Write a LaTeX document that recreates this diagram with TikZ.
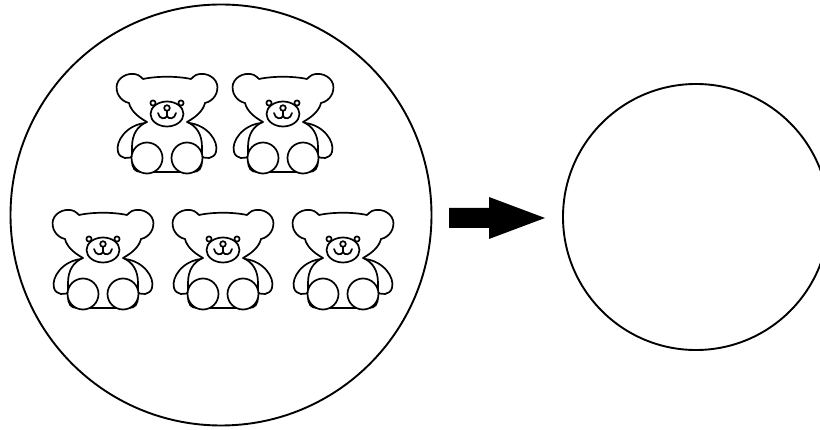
\documentclass[tikz,border=0pt]{standalone}
\begin{document}
\begin{tikzpicture}[x=1pt,y=-1pt,
  bigring/.style={line width=1.9pt},
  bearline/.style={line width=1.7pt, line join=round, fill=white},
  bear/.pic={
    % arms
    \draw[bearline] (-22,50) .. controls (-40,52) and (-52,68) .. (-49,79)
       .. controls (-47,86) and (-38,87) .. (-33,82) -- (-26,60) -- cycle;
    \draw[bearline] (22,50) .. controls (40,52) and (52,68) .. (49,79)
       .. controls (47,86) and (38,87) .. (33,82) -- (26,60) -- cycle;
    % head + body outline
    \draw[bearline] (-20,49)
       .. controls (-29,44) and (-36,38) .. (-38,30)
       .. controls (-47,28) and (-52,19) .. (-50,11)
       .. controls (-47,2) and (-36,-1) .. (-29,2)
       .. controls (-27,3) and (-25,5) .. (-24,6)
       .. controls (-10,3) and (10,3) .. (24,6)
       .. controls (25,5) and (27,3) .. (29,2)
       .. controls (36,-1) and (47,2) .. (50,11)
       .. controls (52,19) and (47,28) .. (38,30)
       .. controls (36,38) and (29,44) .. (20,49)
       .. controls (30,53) and (35,62) .. (35,74)
       -- (35,88) .. controls (35,95) and (32,99) .. (26,99)
       -- (-26,99) .. controls (-32,99) and (-35,95) .. (-35,88)
       -- (-35,74) .. controls (-35,62) and (-30,53) .. cycle;
    % feet
    \draw[bearline] (-20,85) circle[radius=15.5];
    \draw[bearline] (20,85) circle[radius=15.5];
    % face
    \draw[bearline] (-14,30) circle[radius=2.6];
    \draw[bearline] (14,30) circle[radius=2.6];
    \draw[bearline] (0,41) ellipse[x radius=16.5, y radius=12.5];
    \draw[bearline] (0,35) circle[radius=2.8];
    \draw[bearline, fill=none, line cap=round] (0,37.8) -- (0,43);
    \draw[bearline, fill=none, line cap=round] (-9,40) .. controls (-8,46.5) and (-1,46.5) .. (0,43)
       .. controls (1,46.5) and (8,46.5) .. (9,40);
  }]
\useasboundingbox (0,0) rectangle (820,430);
\coordinate (lc) at (221,215);
\coordinate (rc) at (696,217);
\draw[bigring] (lc) circle[radius=210.5];
\draw[bigring] (rc) circle[radius=133];
% arrow
\fill[black] (449,208) -- (489,208) -- (489,197) -- (545,218) -- (489,239) -- (489,228) -- (449,228) -- cycle;
% bears
\pic at (167,73) {bear};
\pic at (283,73) {bear};
\pic at (103,209) {bear};
\pic at (223,209) {bear};
\pic at (343,209) {bear};
\end{tikzpicture}
\end{document}
